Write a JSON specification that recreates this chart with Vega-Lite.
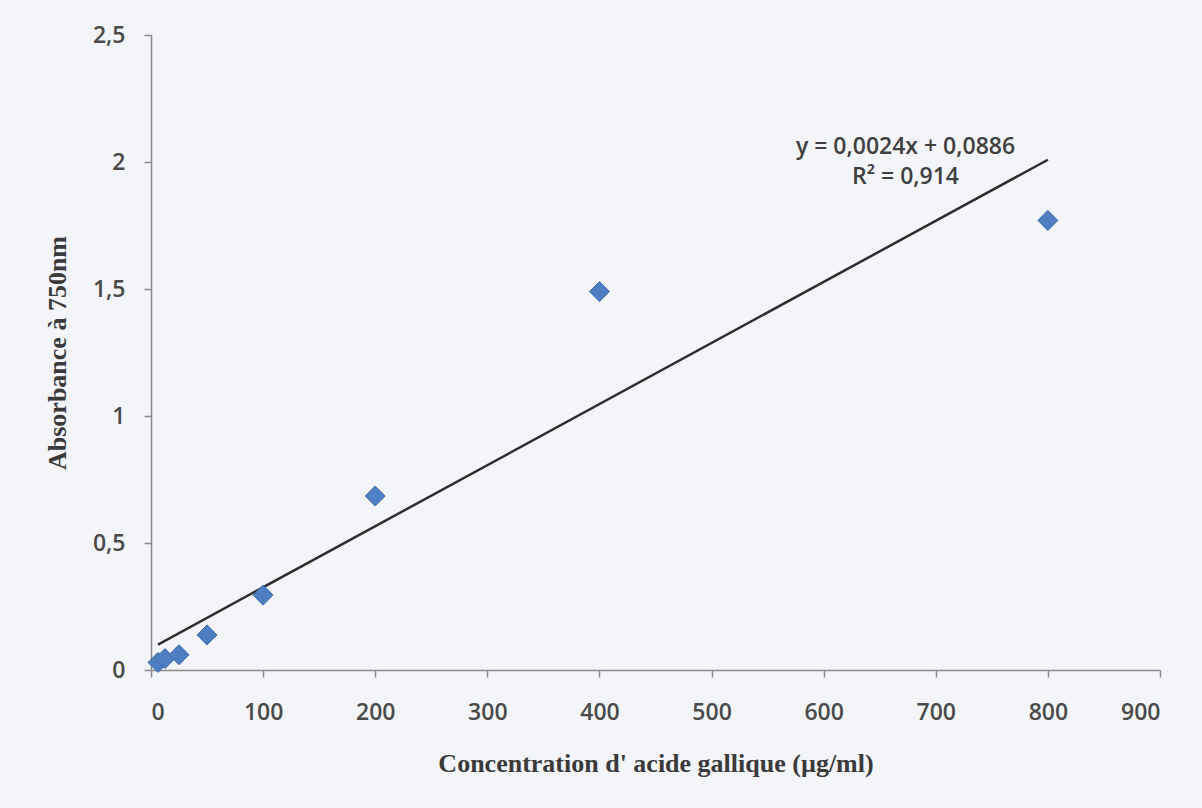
{
  "$schema": "https://vega.github.io/schema/vega-lite/v6.json",
  "width": 1009,
  "height": 635,
  "autosize": {"type": "none"},
  "padding": {"left": 151, "top": 35, "right": 42, "bottom": 138},
  "background": "#f4f5f9",
  "config": {
    "view": {"stroke": null},
    "axis": {
      "grid": false,
      "domainColor": "#8a8a8a",
      "tickColor": "#8a8a8a",
      "domainWidth": 1.5,
      "tickWidth": 1.5,
      "labelFont": "Open Sans",
      "labelFontWeight": 600,
      "labelFontSize": 23,
      "labelColor": "#4a4a4a",
      "titleFont": "Liberation Serif",
      "titleFontWeight": "bold",
      "titleFontSize": 26,
      "titleColor": "#3a3a3a"
    }
  },
  "datasets": {
    "points": [
      {"conc": 6.25, "abs": 0.03},
      {"conc": 12.5, "abs": 0.045},
      {"conc": 25, "abs": 0.06},
      {"conc": 50, "abs": 0.138},
      {"conc": 100, "abs": 0.295},
      {"conc": 200, "abs": 0.685},
      {"conc": 400, "abs": 1.49},
      {"conc": 800, "abs": 1.77}
    ],
    "labels": [
      {"conc": 673, "abs": 2.06, "txt": "y = 0,0024x + 0,0886"},
      {"conc": 673, "abs": 1.94, "txt": "R² = 0,914"}
    ]
  },
  "layer": [
    {
      "data": {"name": "points"},
      "transform": [{"regression": "abs", "on": "conc"}],
      "mark": {"type": "line", "color": "#2e2e2e", "strokeWidth": 2.5},
      "encoding": {
        "x": {"field": "conc", "type": "quantitative"},
        "y": {"field": "abs", "type": "quantitative"}
      }
    },
    {
      "data": {"name": "points"},
      "mark": {"type": "point", "shape": "diamond", "filled": true, "size": 400, "color": "#4f7fc2", "stroke": "#3e6aa8", "strokeWidth": 1, "opacity": 1},
      "encoding": {
        "x": {
          "field": "conc", "type": "quantitative",
          "scale": {"domain": [0, 900], "nice": false},
          "axis": {"values": [0, 100, 200, 300, 400, 500, 600, 700, 800, 900], "tickSize": 7, "labelPadding": 24, "title": "Concentration d' acide gallique (µg/ml)", "titlePadding": 26}
        },
        "y": {
          "field": "abs", "type": "quantitative",
          "scale": {"domain": [0, 2.5], "nice": false},
          "axis": {"values": [0, 0.5, 1, 1.5, 2, 2.5], "tickSize": 7, "labelPadding": 19, "labelExpr": "replace(format(datum.value, '~g'), '.', ',')", "title": "Absorbance à 750nm", "titlePadding": 22}
        }
      }
    },
    {
      "data": {"name": "labels"},
      "mark": {"type": "text", "font": "Open Sans", "fontWeight": 600, "fontSize": 23, "color": "#404040", "align": "center", "baseline": "middle"},
      "encoding": {
        "x": {"field": "conc", "type": "quantitative"},
        "y": {"field": "abs", "type": "quantitative"},
        "text": {"field": "txt"}
      }
    }
  ]
}
